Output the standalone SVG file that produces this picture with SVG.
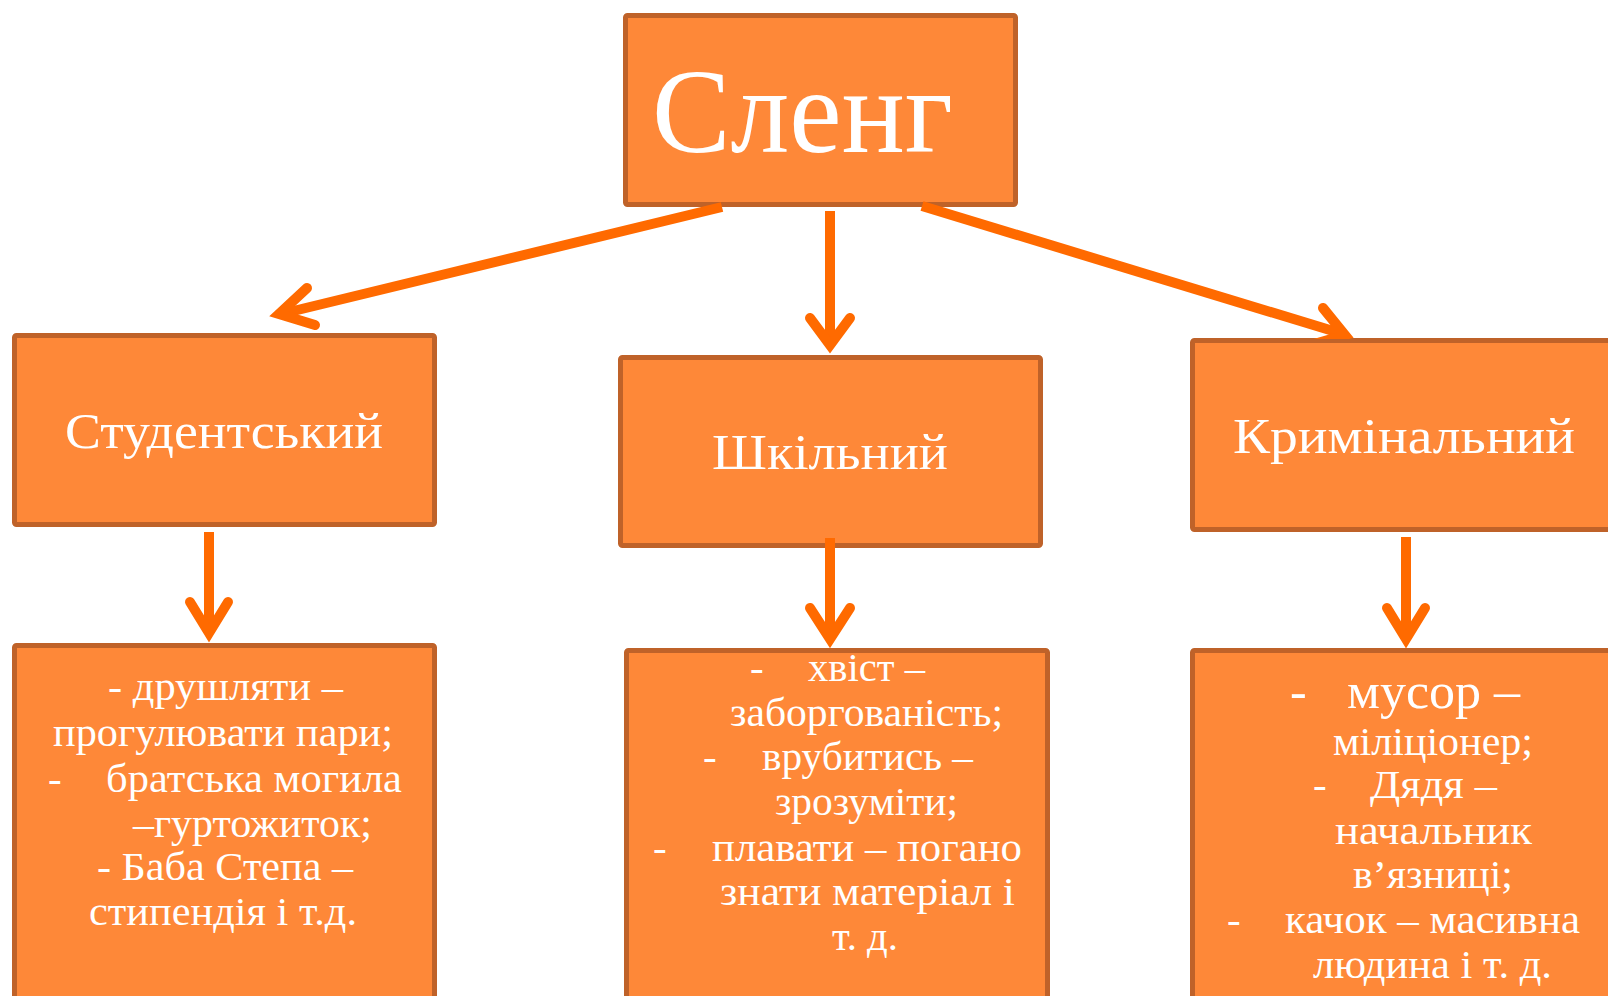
<svg xmlns="http://www.w3.org/2000/svg" width="1608" height="996" viewBox="0 0 1608 996">
<style>
.box{fill:#FE8838;stroke:#BF6229;stroke-width:5}
.t{font-family:"Liberation Serif","DejaVu Serif",serif;fill:#FFFFFF}
.big{font-size:120px}
.mid{font-size:50px}
.sm{font-size:41px}
.lg{font-size:50px}
.shaft{stroke:#FF6A00;stroke-width:10;fill:none;stroke-linecap:butt}
.head{stroke:#FF6A00;stroke-width:10;fill:none;stroke-linecap:round;stroke-linejoin:miter;stroke-miterlimit:10}
</style>
<defs>
  <clipPath id="aboveCrim"><rect x="0" y="0" width="1608" height="339"/></clipPath>
</defs>
<rect width="1608" height="996" fill="#FFFFFF"/>
<g id="node-sleng">
  <rect class="box" x="625.5" y="15.5" width="390" height="189" rx="2"/>
  <text class="t big" x="652" y="152" textLength="301" lengthAdjust="spacingAndGlyphs">Сленг</text>
</g>
<g id="node-student">
  <rect class="box" x="14.5" y="335.5" width="420" height="189" rx="2"/>
  <text class="t mid" x="65" y="448" textLength="318" lengthAdjust="spacingAndGlyphs">Студентський</text>
</g>
<g id="node-school">
  <rect class="box" x="620.5" y="357.5" width="420" height="188" rx="2"/>
  <text class="t mid" x="712" y="469" textLength="236" lengthAdjust="spacingAndGlyphs">Шкільний</text>
</g>
<g id="node-criminal">
  <rect class="box" x="1192.5" y="340.5" width="430" height="189" rx="2"/>
  <text class="t mid" x="1233" y="453" textLength="342" lengthAdjust="spacingAndGlyphs">Кримінальний</text>
</g>
<g id="node-student-list">
  <rect class="box" x="14.5" y="645.5" width="420" height="360" rx="2"/>
  <text class="t sm" x="108" y="700" textLength="235" lengthAdjust="spacingAndGlyphs">- друшляти –</text>
  <text class="t sm" x="53" y="746" textLength="340" lengthAdjust="spacingAndGlyphs">прогулювати пари;</text>
  <text class="t sm" x="48" y="792">-</text>
  <text class="t sm" x="106" y="792" textLength="296" lengthAdjust="spacingAndGlyphs">братська могила</text>
  <text class="t sm" x="133" y="837" textLength="239" lengthAdjust="spacingAndGlyphs">–гуртожиток;</text>
  <text class="t sm" x="97" y="880" textLength="256" lengthAdjust="spacingAndGlyphs">- Баба Степа –</text>
  <text class="t sm" x="89" y="925" textLength="268" lengthAdjust="spacingAndGlyphs">стипендія і т.д.</text>
</g>
<g id="node-school-list">
  <rect class="box" x="626.5" y="650.5" width="421" height="360" rx="2"/>
  <text class="t sm" x="750" y="681">-</text>
  <text class="t sm" x="808" y="681" textLength="117" lengthAdjust="spacingAndGlyphs">хвіст –</text>
  <text class="t sm" x="730" y="726" textLength="273" lengthAdjust="spacingAndGlyphs">заборгованість;</text>
  <text class="t sm" x="703" y="770">-</text>
  <text class="t sm" x="762" y="770" textLength="211" lengthAdjust="spacingAndGlyphs">врубитись –</text>
  <text class="t sm" x="775" y="815" textLength="183" lengthAdjust="spacingAndGlyphs">зрозуміти;</text>
  <text class="t sm" x="653" y="861">-</text>
  <text class="t sm" x="712" y="861" textLength="310" lengthAdjust="spacingAndGlyphs">плавати – погано</text>
  <text class="t sm" x="720" y="905" textLength="295" lengthAdjust="spacingAndGlyphs">знати матеріал і</text>
  <text class="t sm" x="832" y="950" textLength="66" lengthAdjust="spacingAndGlyphs">т. д.</text>
</g>
<g id="node-criminal-list">
  <rect class="box" x="1192.5" y="650.5" width="430" height="360" rx="2"/>
  <text class="t lg" x="1290" y="708">-</text>
  <text class="t lg" x="1347" y="708" textLength="173" lengthAdjust="spacingAndGlyphs">мусор –</text>
  <text class="t sm" x="1333" y="755" textLength="200" lengthAdjust="spacingAndGlyphs">міліціонер;</text>
  <text class="t sm" x="1313" y="798">-</text>
  <text class="t sm" x="1370" y="798" textLength="127" lengthAdjust="spacingAndGlyphs">Дядя –</text>
  <text class="t sm" x="1335" y="844" textLength="197" lengthAdjust="spacingAndGlyphs">начальник</text>
  <text class="t sm" x="1353" y="888" textLength="160" lengthAdjust="spacingAndGlyphs">в’язниці;</text>
  <text class="t sm" x="1227" y="933">-</text>
  <text class="t sm" x="1285" y="933" textLength="295" lengthAdjust="spacingAndGlyphs">качок – масивна</text>
  <text class="t sm" x="1313" y="978" textLength="239" lengthAdjust="spacingAndGlyphs">людина і т. д.</text>
</g>
<g id="connectors">
  <line class="shaft" x1="722" y1="207" x2="281" y2="314"/>
  <path class="head" d="M307,288 L279,314 L315,325"/>
  <line class="shaft" x1="830" y1="211" x2="830" y2="343"/>
  <path class="head" d="M810,318 L830,345 L850,318"/>
  <g clip-path="url(#aboveCrim)">
    <line class="shaft" x1="922" y1="206" x2="1343" y2="334"/>
    <path class="head" d="M1323,308 L1345,335 L1311,345"/>
  </g>
  <line class="shaft" x1="209" y1="532" x2="209" y2="631"/>
  <path class="head" d="M190,602 L209,633 L228,602"/>
  <line class="shaft" x1="830" y1="538" x2="830" y2="637"/>
  <path class="head" d="M810,608 L830,639 L850,608"/>
  <line class="shaft" x1="1406" y1="537" x2="1406" y2="637"/>
  <path class="head" d="M1387,608 L1406,639 L1425,608"/>
</g>
</svg>
